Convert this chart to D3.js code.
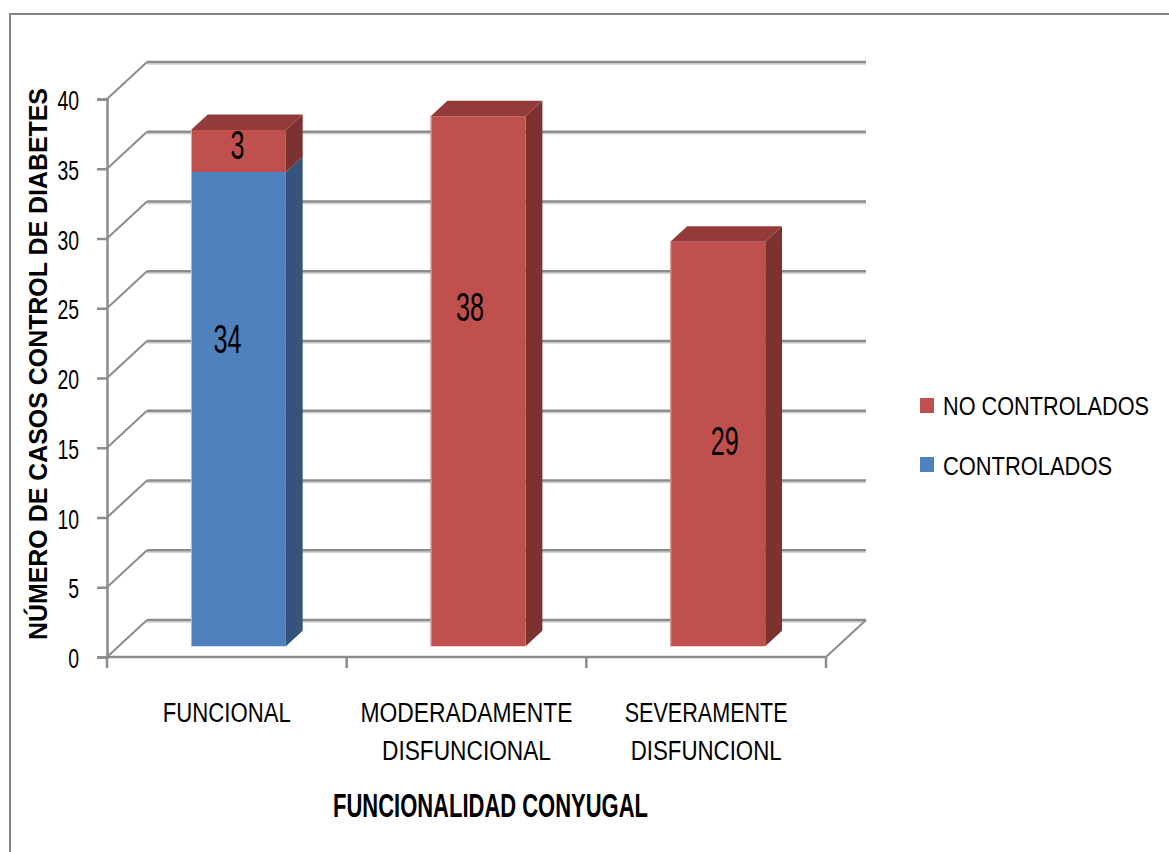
<!DOCTYPE html>
<html>
<head>
<meta charset="utf-8">
<script src="https://cdn.jsdelivr.net/npm/d3@7"></script>
<style>
  html, body { margin: 0; padding: 0; background: #fff; }
  svg { display: block; }
  text { font-family: "Liberation Sans Narrow", "Liberation Sans", Arial, sans-serif; fill: #000; }
</style>
</head>
<body>
<div id="chart"></div>
<script>
// Chart data
const categories = ["FUNCIONAL", "MODERADAMENTE DISFUNCIONAL", "SEVERAMENTE DISFUNCIONL"];
const categoryLines = [["FUNCIONAL"], ["MODERADAMENTE", "DISFUNCIONAL"], ["SEVERAMENTE", "DISFUNCIONL"]];
const controlados = [34, 0, 0];
const noControlados = [3, 38, 29];
const yTicks = [0, 5, 10, 15, 20, 25, 30, 35, 40];
const seriesNames = ["NO CONTROLADOS", "CONTROLADOS"];
const yTitle = "NÚMERO DE CASOS CONTROL DE DIABETES";
const xTitle = "FUNCIONALIDAD CONYUGAL";

const W = 1169, H = 852;
const colors = {
  blue: { front: "#4f81bd", side: "#34547c", top: "#3e6797", edge: "#a7bfdd" },
  red:  { front: "#c0504d", side: "#7b3231", top: "#933b39", edge: "#dba9a8" }
};
const gridColor = "#8c8c8c";

const svg = d3.select("#chart").append("svg")
  .attr("width", W).attr("height", H);

// Outer frame (left and top edges visible)
svg.append("path")
  .attr("d", `M10,${H} L10,14 L${W},14`)
  .attr("fill", "none").attr("stroke", "#868686").attr("stroke-width", 2);

// Scales (front plane) and depth projection
const y = d3.scaleLinear().domain([0, 40]).range([657, 99]);
const x = d3.scaleBand().domain(categories).range([107, 826]).padding(0);
const DX = 40, DY = 37;            // depth offset of the back wall
const zFront = 0.29, zBack = 0.71; // bar depth slice
const barW = x.bandwidth() * 0.396;
const P = (px, v, z) => [px + z * DX, y(v) - z * DY];
const pts = arr => arr.map(p => p.join(",")).join(" ");

const [xL, xR] = x.range();

// Back wall gridlines (with a light shadow line beneath)
const grid = svg.append("g");
yTicks.forEach(t => {
  const a = P(xL, t, 1), b = P(xR, t, 1);
  grid.append("line").attr("x1", a[0]).attr("y1", a[1] + 2).attr("x2", b[0]).attr("y2", b[1] + 2)
    .attr("stroke", "#d2d2d2").attr("stroke-width", 1.5);
  grid.append("line").attr("x1", a[0]).attr("y1", a[1]).attr("x2", b[0]).attr("y2", b[1])
    .attr("stroke", gridColor).attr("stroke-width", 2.5);
  // left wall diagonals
  const c = P(xL, t, 0);
  grid.append("line").attr("x1", c[0]).attr("y1", c[1]).attr("x2", a[0]).attr("y2", a[1])
    .attr("stroke", gridColor).attr("stroke-width", 2);
});
// Right floor edge
{
  const a = P(xR, 0, 0), b = P(xR, 0, 1);
  grid.append("line").attr("x1", a[0]).attr("y1", a[1]).attr("x2", b[0]).attr("y2", b[1])
    .attr("stroke", gridColor).attr("stroke-width", 2);
}

// Front axes
const yAxis = svg.append("g")
  .attr("transform", `translate(${xL},0)`)
  .call(d3.axisLeft(y).tickValues(yTicks).tickSize(10).tickPadding(18));
yAxis.select(".domain").attr("stroke", gridColor).attr("stroke-width", 2.5);
yAxis.selectAll(".tick line").attr("stroke", gridColor).attr("stroke-width", 2.5);
yAxis.selectAll(".tick text")
  .style("font-size", "28px")
  .style("font-family", "'Liberation Sans Narrow', 'Liberation Sans', sans-serif")
  .attr("dy", "0.38em")
  .attr("textLength", d => String(d).length * 10.8)
  .attr("lengthAdjust", "spacingAndGlyphs");

// Bottom axis line and category boundary ticks
svg.append("line").attr("x1", xL).attr("y1", y(0)).attr("x2", xR).attr("y2", y(0))
  .attr("stroke", gridColor).attr("stroke-width", 2.5);
const bounds = categories.map(c => x(c)).concat([xR]);
svg.append("g").selectAll("line").data(bounds).join("line")
  .attr("x1", d => d).attr("x2", d => d)
  .attr("y1", y(0)).attr("y2", y(0) + 11)
  .attr("stroke", gridColor).attr("stroke-width", 2.5);

// Bars
const bars = svg.append("g");
const labelData = [];
// nudges for the value labels of each bar segment
const labelNudge = [[[-11, -70], [-1, -6]], [[0, 0], [-8, -74]], [[0, 0], [7, -3]]];
categories.forEach((cat, i) => {
  const segs = [
    { s: 0, e: controlados[i], c: colors.blue, v: controlados[i] },
    { s: controlados[i], e: controlados[i] + noControlados[i], c: colors.red, v: noControlados[i] }
  ];
  const x0 = x(cat) + (x.bandwidth() - barW) / 2;
  const x1 = x0 + barW;
  const total = controlados[i] + noControlados[i];
  segs.forEach((sg, k) => {
    if (sg.e <= sg.s) return;
    // side face
    bars.append("polygon")
      .attr("points", pts([P(x1, sg.s, zFront), P(x1, sg.s, zBack), P(x1, sg.e, zBack), P(x1, sg.e, zFront)]))
      .attr("fill", sg.c.side);
    // front face
    bars.append("polygon")
      .attr("points", pts([P(x0, sg.s, zFront), P(x1, sg.s, zFront), P(x1, sg.e, zFront), P(x0, sg.e, zFront)]))
      .attr("fill", sg.c.front);
    const l0 = P(x0, sg.s, zFront), l1 = P(x0, sg.e, zFront);
    bars.append("line").attr("x1", l0[0] + 0.5).attr("y1", l0[1]).attr("x2", l1[0] + 0.5).attr("y2", l1[1])
      .attr("stroke", sg.c.edge).attr("stroke-width", 1);
    if (sg.e === total) {
      bars.append("polygon")
        .attr("points", pts([P(x0, sg.e, zFront), P(x1, sg.e, zFront), P(x1, sg.e, zBack), P(x0, sg.e, zBack)]))
        .attr("fill", sg.c.top);
    }
    const fc = P((x0 + x1) / 2, (sg.s + sg.e) / 2, zFront);
    const nd = labelNudge[i][k];
    labelData.push({ v: sg.v, cx: fc[0] + nd[0], cy: fc[1] + nd[1] });
  });
});

// Value labels
svg.append("g").selectAll("text").data(labelData).join("text")
  .attr("x", d => d.cx).attr("y", d => d.cy + 14)
  .attr("text-anchor", "middle")
  .style("font-size", "40px")
  .attr("textLength", d => String(d.v).length * 14)
  .attr("lengthAdjust", "spacingAndGlyphs")
  .text(d => d.v);

// Category labels
const catWidths = [[128], [212, 169], [163, 151]];
const catG = svg.append("g");
categories.forEach((cat, i) => {
  const cx = x(cat) + x.bandwidth() / 2;
  categoryLines[i].forEach((line, j) => {
    catG.append("text")
      .attr("x", cx).attr("y", 722 + j * 38)
      .attr("text-anchor", "middle")
      .style("font-size", "27px")
      .attr("textLength", catWidths[i][j])
      .attr("lengthAdjust", "spacingAndGlyphs")
      .text(line);
  });
});

// Axis titles
svg.append("text")
  .attr("transform", "translate(47,364) rotate(-90)")
  .attr("text-anchor", "middle")
  .style("font-size", "26px").style("font-weight", "bold")
  .attr("textLength", 552).attr("lengthAdjust", "spacingAndGlyphs")
  .text(yTitle);

svg.append("text")
  .attr("x", 490.5).attr("y", 817)
  .attr("text-anchor", "middle")
  .style("font-size", "33px").style("font-weight", "bold")
  .attr("textLength", 315).attr("lengthAdjust", "spacingAndGlyphs")
  .text(xTitle);

// Legend
const legendColors = [colors.red.front, colors.blue.front];
const legendWidths = [206, 169];
const leg = svg.append("g");
seriesNames.forEach((name, i) => {
  leg.append("rect").attr("x", 920).attr("y", 398 + i * 59).attr("width", 14).attr("height", 15)
    .attr("fill", legendColors[i]);
  leg.append("text").attr("x", 943).attr("y", 415 + i * 60)
    .style("font-size", "26px")
    .attr("textLength", legendWidths[i]).attr("lengthAdjust", "spacingAndGlyphs")
    .text(name);
});
</script>
</body>
</html>
